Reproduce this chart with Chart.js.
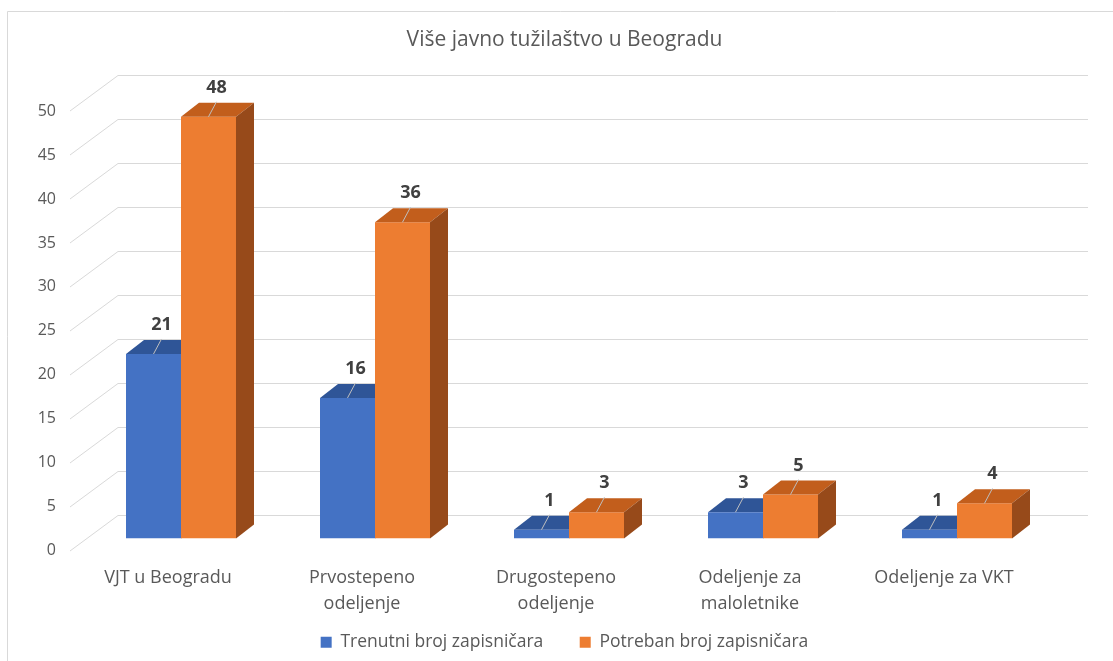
<!DOCTYPE html>
<html>
<head>
<meta charset="utf-8">
<script src="https://cdn.jsdelivr.net/npm/chart.js@4.4.0/dist/chart.umd.min.js"></script>
<style>
  html, body { margin: 0; padding: 0; background: #fff; }
  #wrap { width: 1113px; height: 661px; position: relative; }
</style>
</head>
<body>
<div id="wrap"><canvas id="chart"></canvas></div>
<script>
// Više javno tužilaštvo u Beogradu - broj zapisničara

const categories = [
    'VJT u Beogradu',
    ['Prvostepeno', 'odeljenje'],
    ['Drugostepeno', 'odeljenje'],
    ['Odeljenje za', 'maloletnike'],
    'Odeljenje za VKT'
];
const currentCount = [21, 16, 1, 3, 1];
const neededCount = [48, 36, 3, 5, 4];
const seriesNames = ['Trenutni broj zapisničara', 'Potreban broj zapisničara'];
const yMin = 0, yMax = 50, yStep = 5;

const TEXT = '#595959';
const GRID = '#D9D9D9';
const DX = 18, DY = 14; // bar depth

const faceColors = [
    { top: '#2F5597', side: '#26467F' },
    { top: '#C25E1C', side: '#974A1A' }
];

Chart.defaults.font.family = "'Open Sans', sans-serif";
Chart.defaults.color = TEXT;

function drawFaces(ctx, meta, c) {
    meta.data.forEach(bar => {
        const x1 = bar.x - bar.width / 2, x2 = bar.x + bar.width / 2;
        const top = bar.y, base = bar.base;
        ctx.fillStyle = c.top;
        ctx.beginPath();
        ctx.moveTo(x1, top);
        ctx.lineTo(x2, top);
        ctx.lineTo(x2 + DX, top - DY);
        ctx.lineTo(x1 + DX, top - DY);
        ctx.closePath();
        ctx.fill();
        ctx.fillStyle = c.side;
        ctx.beginPath();
        ctx.moveTo(x2, top);
        ctx.lineTo(x2 + DX, top - DY);
        ctx.lineTo(x2 + DX, base - DY);
        ctx.lineTo(x2, base);
        ctx.closePath();
        ctx.fill();
    });
}

// fake 3D: back wall lines, bar tops/sides, labels with leaders
const bars3d = {
    id: 'bars3d',
    beforeDraw(chart) {
        const ctx = chart.ctx;
        ctx.save();
        ctx.fillStyle = '#fff';
        ctx.fillRect(0, 0, chart.width, chart.height);
        ctx.strokeStyle = GRID;
        ctx.lineWidth = 1;
        ctx.beginPath();
        ctx.moveTo(7.5, chart.height);
        ctx.lineTo(7.5, 11.5);
        ctx.lineTo(chart.width, 11.5);
        ctx.stroke();
        ctx.restore();
    },
    beforeDatasetsDraw(chart) {
        const { ctx, chartArea, scales: { y } } = chart;
        ctx.save();
        ctx.strokeStyle = GRID;
        ctx.lineWidth = 1;
        y.ticks.forEach(t => {
            const py = Math.round(y.getPixelForValue(t.value));
            ctx.beginPath();
            ctx.moveTo(chartArea.left - 14, py + 12);
            ctx.lineTo(chartArea.left + 34, py - 23.5);
            ctx.lineTo(chartArea.right + 34, py - 23.5);
            ctx.stroke();
        });
        // blue faces go under the orange fronts
        drawFaces(ctx, chart.getDatasetMeta(0), faceColors[0]);
        ctx.restore();
    },
    afterDatasetsDraw(chart) {
        const ctx = chart.ctx;
        ctx.save();
        drawFaces(ctx, chart.getDatasetMeta(1), faceColors[1]);
        chart.data.datasets.forEach((ds, i) => {
            chart.getDatasetMeta(i).data.forEach((bar, j) => {
                ctx.strokeStyle = '#BFBFBF';
                ctx.lineWidth = 1;
                ctx.beginPath();
                ctx.moveTo(bar.x, bar.y);
                ctx.lineTo(bar.x + 8, bar.y - 15);
                ctx.stroke();
                ctx.fillStyle = '#404040';
                ctx.font = "bold 18px 'Open Sans', sans-serif";
                ctx.textAlign = 'center';
                ctx.textBaseline = 'middle';
                ctx.fillText(String(ds.data[j]), bar.x + 8, bar.y - 29);
            });
        });
        ctx.restore();
    }
};

new Chart(document.getElementById('chart'), {
    type: 'bar',
    data: {
        labels: categories,
        datasets: [{
            label: seriesNames[0],
            data: currentCount,
            backgroundColor: '#4472C4',
            borderWidth: 0
        }, {
            label: seriesNames[1],
            data: neededCount,
            backgroundColor: '#ED7D31',
            borderWidth: 0
        }]
    },
    options: {
        responsive: true,
        maintainAspectRatio: false,
        animation: false,
        categoryPercentage: 0.567,
        barPercentage: 1.0,
        layout: { padding: { left: 16, right: 0, top: 0, bottom: 0 } },
        plugins: {
            title: {
                display: true,
                text: 'Više javno tužilaštvo u Beogradu',
                color: TEXT,
                font: { size: 21, weight: 'normal' },
                padding: { top: 27, bottom: 47 }
            },
            legend: {
                position: 'bottom',
                labels: {
                    boxWidth: 11,
                    boxHeight: 11,
                    padding: 16,
                    color: TEXT,
                    font: { size: 17.5 },
                    generateLabels(chart) {
                        const items = Chart.defaults.plugins.legend.labels.generateLabels(chart);
                        // a bit more room between the two entries
                        items.forEach((it, i) => { if (i < items.length - 1) it.text += '\u2003\u2009'; });
                        return items;
                    }
                }
            },
            tooltip: { enabled: false }
        },
        scales: {
            x: {
                grid: { display: false, drawTicks: false },
                border: { display: false },
                ticks: {
                    padding: 26,
                    labelOffset: -13,
                    maxRotation: 0,
                    autoSkip: false,
                    color: TEXT,
                    font: { size: 18, lineHeight: 1.45 }
                },
                afterFit(s) { s.height = 79; }
            },
            y: {
                min: yMin,
                max: yMax,
                grid: { display: false, drawTicks: false },
                border: { display: false },
                ticks: {
                    stepSize: yStep,
                    padding: 28,
                    labelOffset: 12,
                    color: TEXT,
                    font: { size: 16 }
                },
                afterFit(s) { s.width = 68; }
            },
            yRight: {
                position: 'right',
                display: true,
                min: 0,
                max: 1,
                grid: { display: false, drawTicks: false },
                border: { display: false },
                ticks: { display: false },
                afterFit(s) { s.width = 59; }
            }
        }
    },
    plugins: [bars3d]
});
</script>
</body>
</html>
